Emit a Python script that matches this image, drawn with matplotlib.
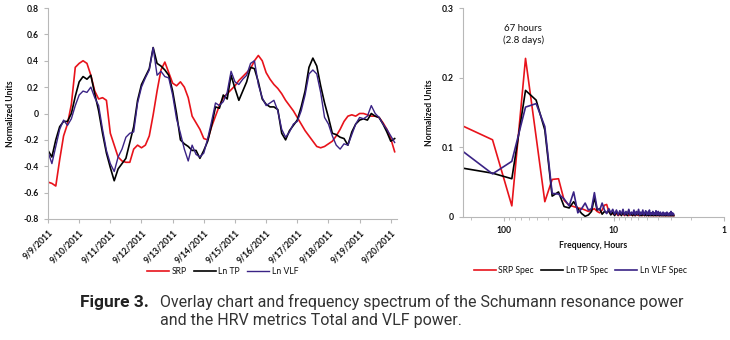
import numpy as np
import matplotlib
matplotlib.use("Agg")
import matplotlib.pyplot as plt
from matplotlib.ticker import FixedLocator, NullFormatter, LogLocator

STEP_H = 3          # overlay series sampled every 3 hours
RECORD_H = 256      # FFT record length, hours

day_labels = ["9/9/2011", "9/10/2011", "9/11/2011", "9/12/2011", "9/13/2011", "9/14/2011",
              "9/15/2011", "9/16/2011", "9/17/2011", "9/18/2011", "9/19/2011", "9/20/2011"]

srp = [-0.52, -0.53, -0.55, -0.35, -0.17, -0.08, 0.07, 0.35, 0.38, 0.40,
       0.38, 0.29, 0.17, 0.11, 0.12, 0.10, -0.15, -0.24, -0.33, -0.36,
       -0.37, -0.37, -0.27, -0.24, -0.26, -0.24, -0.17, -0.01, 0.17, 0.33,
       0.39, 0.31, 0.23, 0.21, 0.24, 0.20, 0.12, -0.02, -0.07, -0.12,
       -0.19, -0.20, -0.10, -0.02, 0.06, 0.12, 0.15, 0.18, 0.21, 0.25,
       0.28, 0.31, 0.34, 0.40, 0.44, 0.40, 0.31, 0.26, 0.22, 0.19,
       0.15, 0.10, 0.06, 0.02, -0.03, -0.08, -0.13, -0.17, -0.21, -0.25,
       -0.26, -0.25, -0.23, -0.21, -0.17, -0.12, -0.06, -0.02, -0.01, -0.02,
       0.00, 0.00, -0.01, -0.02, -0.02, -0.03, -0.07, -0.12, -0.19, -0.29]

ln_tp = [-0.28, -0.33, -0.20, -0.10, -0.06, -0.06, 0.00, 0.13, 0.24, 0.28,
         0.26, 0.29, 0.15, 0.02, -0.15, -0.30, -0.41, -0.51, -0.42, -0.38,
         -0.34, -0.22, -0.10, 0.10, 0.22, 0.28, 0.34, 0.50, 0.38, 0.36,
         0.33, 0.29, 0.17, 0.00, -0.20, -0.23, -0.25, -0.28, -0.28, -0.34,
         -0.28, -0.21, -0.09, 0.05, 0.04, 0.14, 0.11, 0.29, 0.19, 0.10,
         0.17, 0.24, 0.35, 0.34, 0.24, 0.11, 0.07, 0.05, 0.05, 0.03,
         -0.15, -0.20, -0.13, -0.09, -0.05, 0.05, 0.17, 0.35, 0.42, 0.36,
         0.21, 0.08, -0.03, -0.15, -0.16, -0.18, -0.19, -0.24, -0.14, -0.08,
         -0.05, -0.04, -0.05, 0.00, -0.02, -0.03, -0.08, -0.14, -0.21, -0.19]

ln_vlf = [-0.29, -0.38, -0.25, -0.12, -0.05, -0.09, -0.04, 0.06, 0.14, 0.17,
          0.16, 0.20, 0.12, 0.06, -0.12, -0.28, -0.38, -0.44, -0.33, -0.27,
          -0.18, -0.15, -0.14, 0.08, 0.20, 0.27, 0.33, 0.50, 0.29, 0.32,
          0.28, 0.27, 0.14, -0.04, -0.15, -0.27, -0.36, -0.24, -0.31, -0.33,
          -0.30, -0.19, -0.06, 0.08, 0.06, 0.09, 0.16, 0.32, 0.24, 0.22,
          0.26, 0.29, 0.38, 0.40, 0.22, 0.12, 0.06, 0.08, 0.10, 0.02,
          -0.12, -0.18, -0.14, -0.08, -0.06, 0.02, 0.14, 0.30, 0.33, 0.30,
          0.16, -0.03, -0.08, -0.17, -0.24, -0.27, -0.23, -0.24, -0.16, -0.08,
          -0.03, -0.04, -0.02, 0.06, 0.00, -0.03, -0.08, -0.12, -0.17, -0.22]

harmonic = list(range(1, 91))

srp_spec = [0.133, 0.111, 0.016, 0.228, 0.115, 0.022, 0.054, 0.055, 0.024, 0.017,
            0.015, 0.013, 0.012, 0.010, 0.008, 0.010, 0.012, 0.008, 0.006, 0.010,
            0.017, 0.018, 0.008, 0.004, 0.005, 0.003, 0.005, 0.002, 0.004, 0.003,
            0.005, 0.002, 0.004, 0.003, 0.002, 0.005, 0.003, 0.002, 0.004, 0.002,
            0.003, 0.005, 0.002, 0.003, 0.002, 0.004, 0.002, 0.003, 0.002, 0.004,
            0.002, 0.003, 0.002, 0.002, 0.004, 0.002, 0.003, 0.002, 0.002, 0.003,
            0.002, 0.004, 0.002, 0.002, 0.003, 0.002, 0.002, 0.004, 0.002, 0.002,
            0.003, 0.002, 0.002, 0.003, 0.002, 0.002, 0.002, 0.003, 0.002, 0.002,
            0.003, 0.002, 0.002, 0.002, 0.003, 0.002, 0.002, 0.002, 0.002, 0.002]

tp_spec = [0.071, 0.063, 0.055, 0.182, 0.168, 0.125, 0.030, 0.036, 0.015, 0.013,
           0.022, 0.012, 0.005, 0.001, 0.003, 0.008, 0.028, 0.010, 0.012, 0.004,
           0.008, 0.006, 0.009, 0.003, 0.007, 0.002, 0.008, 0.003, 0.006, 0.002,
           0.007, 0.003, 0.005, 0.002, 0.009, 0.003, 0.004, 0.002, 0.006, 0.002,
           0.005, 0.003, 0.007, 0.002, 0.004, 0.002, 0.006, 0.003, 0.002, 0.005,
           0.002, 0.004, 0.002, 0.006, 0.002, 0.003, 0.002, 0.005, 0.002, 0.003,
           0.002, 0.004, 0.002, 0.003, 0.005, 0.002, 0.002, 0.004, 0.002, 0.003,
           0.002, 0.003, 0.002, 0.004, 0.002, 0.002, 0.003, 0.002, 0.004, 0.002,
           0.002, 0.003, 0.002, 0.002, 0.004, 0.002, 0.002, 0.003, 0.002, 0.002]

vlf_spec = [0.098, 0.062, 0.080, 0.158, 0.163, 0.130, 0.034, 0.033, 0.026, 0.016,
            0.036, 0.006, 0.012, 0.020, 0.010, 0.012, 0.035, 0.012, 0.010, 0.020,
            0.010, 0.005, 0.012, 0.006, 0.011, 0.004, 0.010, 0.003, 0.009, 0.004,
            0.011, 0.003, 0.008, 0.004, 0.011, 0.003, 0.007, 0.004, 0.010, 0.003,
            0.008, 0.004, 0.011, 0.003, 0.007, 0.004, 0.010, 0.003, 0.006, 0.009,
            0.003, 0.007, 0.004, 0.010, 0.003, 0.006, 0.004, 0.008, 0.003, 0.006,
            0.004, 0.009, 0.003, 0.005, 0.008, 0.003, 0.004, 0.007, 0.003, 0.005,
            0.003, 0.007, 0.003, 0.004, 0.006, 0.003, 0.004, 0.007, 0.003, 0.004,
            0.003, 0.006, 0.003, 0.004, 0.008, 0.003, 0.004, 0.006, 0.003, 0.004]

RED = "#e8131b"
BLACK = "#000000"
PURPLE = "#3a2385"
AXIS_GRAY = "#b8b8b8"
TEXT = "#111111"
FS = 6.2

plt.rcParams["font.family"] = ["Lato", "DejaVu Sans"]

fig = plt.figure(figsize=(7.3, 3.4), dpi=100)

def style_axes(ax):
    for side in ("top", "right"):
        ax.spines[side].set_visible(False)
    for side in ("left", "bottom"):
        ax.spines[side].set_color(AXIS_GRAY)
        ax.spines[side].set_linewidth(0.8)
    ax.tick_params(colors=AXIS_GRAY, labelcolor=TEXT, width=0.8, length=3, labelsize=FS)
    for lbl in ax.get_xticklabels() + ax.get_yticklabels():
        lbl.set_fontweight("bold")

# overlay chart
days = np.arange(len(srp)) * STEP_H / 24.0
ax1 = fig.add_axes([48 / 730, 1 - 219 / 340, 349 / 730, 211 / 340])
ax1.plot(days, srp, color=RED, lw=1.2, label="SRP")
ax1.plot(days, ln_tp, color=BLACK, lw=1.2, label="Ln TP")
ax1.plot(days, ln_vlf, color=PURPLE, lw=1.0, label="Ln VLF")
ax1.set_xlim(0, 11.2)
ax1.set_ylim(-0.8, 0.8)
ax1.set_yticks(np.arange(-0.8, 0.81, 0.2))
ax1.set_yticklabels(["-0.8", "-0.6", "-0.4", "-0.2", "0", "0.2", "0.4", "0.6", "0.8"])
ax1.set_xticks(range(len(day_labels)))
ax1.set_xticklabels(day_labels, rotation=45, ha="right", rotation_mode="anchor")
ax1.set_ylabel("Normalized Units", fontsize=FS, fontweight="bold", color=TEXT, labelpad=6)
style_axes(ax1)
ax1.legend(loc="upper center", bbox_to_anchor=(0.5, -0.19), ncol=3, frameon=False,
           fontsize=FS, handlelength=2.6, columnspacing=0.8, handletextpad=0.3,
           labelcolor=TEXT)

# frequency spectrum
period_h = [RECORD_H / k for k in harmonic]
ax2 = fig.add_axes([463 / 730, 1 - 217 / 340, 260.5 / 730, 208.7 / 340])
ax2.plot(period_h, srp_spec, color=RED, lw=1.2, label="SRP Spec")
ax2.plot(period_h, tp_spec, color=BLACK, lw=1.2, label="Ln TP Spec")
ax2.plot(period_h, vlf_spec, color=PURPLE, lw=1.2, label="Ln VLF Spec")
ax2.set_xscale("log")
ax2.set_xlim(238, 1)
ax2.set_ylim(0, 0.3)
ax2.set_yticks([0, 0.1, 0.2, 0.3])
ax2.set_yticklabels(["0", "0.1", "0.2", "0.3"])
ax2.xaxis.set_major_locator(FixedLocator([100, 10, 1]))
ax2.set_xticklabels(["100", "10", "1"])
ax2.xaxis.set_minor_locator(LogLocator(base=10, subs=np.arange(2, 10)))
ax2.xaxis.set_minor_formatter(NullFormatter())
ax2.tick_params(axis="x", which="minor", length=2, color=AXIS_GRAY)
ax2.set_xlabel("Frequency, Hours", fontsize=FS, fontweight="bold", color=TEXT, labelpad=4)
ax2.set_ylabel("Normalized Units", fontsize=FS, fontweight="bold", color=TEXT, labelpad=6)
style_axes(ax2)
ax2.text(67, 0.262, "67 hours\n(2.8 days)", ha="center", va="center", fontsize=7,
         color=TEXT, linespacing=1.3)
ax2.legend(loc="upper center", bbox_to_anchor=(0.45, -0.2), ncol=3, frameon=False,
           fontsize=FS, handlelength=2.6, columnspacing=0.8, handletextpad=0.3,
           labelcolor=TEXT)

# caption
fig.text(80 / 730, 1 - 302 / 340, "Figure 3.", fontsize=12.5, fontweight="bold",
         family=["Roboto", "DejaVu Sans"], color="#222222", va="center")
fig.text(160 / 730, 1 - 302 / 340,
         "Overlay chart and frequency spectrum of the Schumann resonance power",
         fontsize=11.5, family=["Roboto", "DejaVu Sans"], color="#333333", va="center")
fig.text(160 / 730, 1 - 321 / 340, "and the HRV metrics Total and VLF power.",
         fontsize=11.5, family=["Roboto", "DejaVu Sans"], color="#333333", va="center")

fig.savefig("out.png", dpi=100)
